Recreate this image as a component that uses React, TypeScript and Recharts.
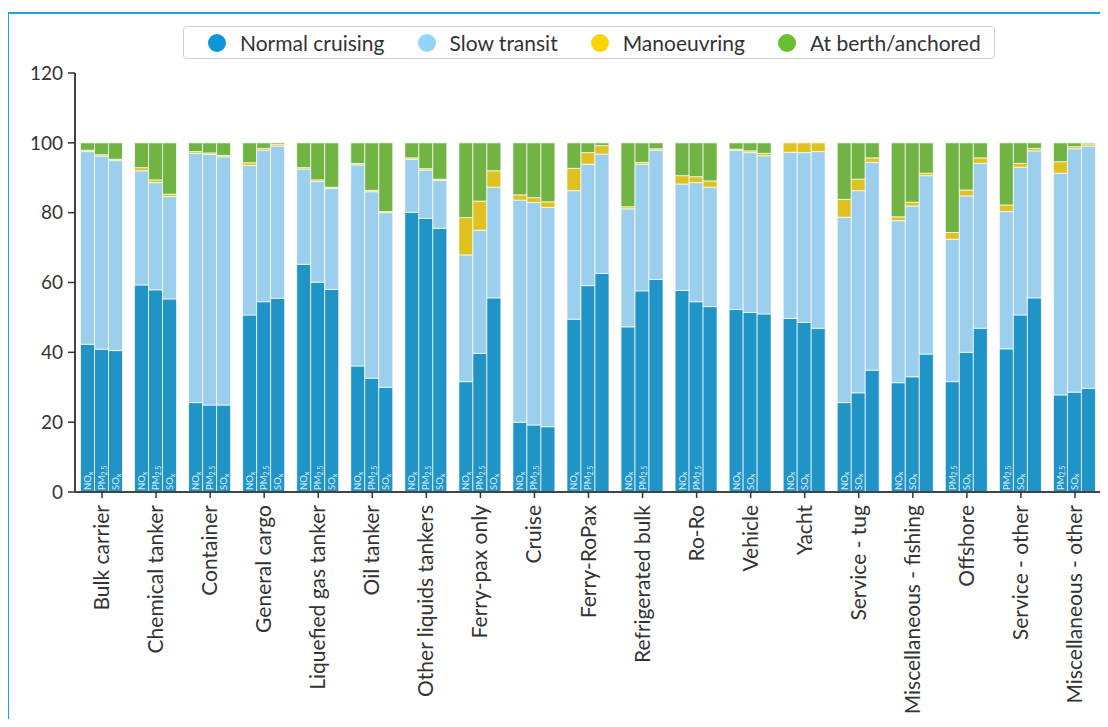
import React from "react";
import { BarChart, Bar, XAxis, YAxis, Legend, LabelList } from "recharts";

const categories = [
  "Bulk carrier",
  "Chemical tanker",
  "Container",
  "General cargo",
  "Liquefied gas tanker",
  "Oil tanker",
  "Other liquids tankers",
  "Ferry-pax only",
  "Cruise",
  "Ferry-RoPax",
  "Refrigerated bulk",
  "Ro-Ro",
  "Vehicle",
  "Yacht",
  "Service - tug",
  "Miscellaneous - fishing",
  "Offshore",
  "Service - other",
  "Miscellaneous - other",
];

const MODE_NAMES = ["Normal cruising", "Slow transit", "Manoeuvring", "At berth/anchored"];
const MODE_KEYS = ["cruise", "slow", "man", "berth"];
const POLLUTANTS = ["nox", "pm", "sox"];
const yTicks = [0, 20, 40, 60, 80, 100, 120];

// NOx (first bar of each group)
const noxCruise = [42.3, 59.3, 25.6, 50.7, 65.2, 36.1, 80.1, 31.6, 20.0, 49.5, 47.3, 57.7, 52.3, 49.7, 25.6, 31.3, 31.6, 41.0, 27.8];
const noxSlow = [55.2, 32.7, 71.4, 42.8, 27.3, 57.6, 15.2, 36.3, 63.6, 36.8, 33.8, 30.5, 45.5, 47.6, 53.1, 46.4, 40.8, 39.3, 63.5];
const noxMan = [0.4, 0.9, 0.5, 0.8, 0.4, 0.4, 0.4, 10.7, 1.5, 6.4, 0.6, 2.4, 0.4, 2.7, 5.1, 1.1, 1.9, 1.9, 3.3];
const noxBerth = [2.1, 7.1, 2.5, 5.7, 7.1, 5.9, 4.3, 21.4, 14.9, 7.3, 18.3, 9.4, 1.8, 0, 16.2, 21.2, 25.7, 17.8, 5.4];

// PM2.5 (second bar)
const pmCruise = [40.9, 57.9, 24.9, 54.5, 60.1, 32.6, 78.4, 39.7, 19.2, 59.1, 57.6, 54.5, 51.4, 48.6, 28.4, 33.0, 40.0, 50.7, 28.6];
const pmSlow = [55.3, 30.7, 71.8, 43.4, 28.8, 53.4, 13.8, 35.3, 63.7, 34.8, 36.3, 34.1, 45.8, 48.6, 57.9, 48.9, 44.8, 42.3, 69.7];
const pmMan = [0.4, 0.8, 0.4, 0.5, 0.5, 0.4, 0.4, 8.3, 1.4, 3.3, 0.5, 1.7, 0.5, 2.8, 3.3, 1.1, 1.7, 1.1, 0.6];
const pmBerth = [3.4, 10.6, 2.9, 1.6, 10.6, 13.6, 7.4, 16.7, 15.7, 2.8, 5.6, 9.7, 2.3, 0, 10.4, 17.0, 13.5, 5.9, 1.1];

// SOx (third bar)
const soxCruise = [40.5, 55.3, 24.9, 55.5, 58.0, 30.0, 75.5, 55.6, 18.7, 62.6, 60.9, 53.1, 51.0, 46.9, 34.9, 39.5, 46.9, 55.6, 29.7];
const soxSlow = [54.4, 29.3, 71.1, 43.6, 28.9, 50.0, 13.7, 31.7, 62.8, 34.2, 37.0, 34.2, 45.3, 50.6, 59.5, 51.1, 47.2, 42.1, 69.4];
const soxMan = [0.4, 0.7, 0.4, 0.5, 0.4, 0.3, 0.4, 4.7, 1.6, 2.4, 0.4, 1.8, 0.7, 2.5, 1.3, 0.7, 1.6, 0.7, 0.6];
const soxBerth = [4.7, 14.7, 3.6, 0.4, 12.7, 19.7, 10.4, 8.0, 16.9, 0.8, 1.7, 10.9, 3.0, 0, 4.3, 8.7, 4.3, 1.6, 0.3];

// small labels written at the foot of each bar, as they appear in the picture
const tagsFirst = ["NOx", "NOx", "NOx", "NOx", "NOx", "NOx", "NOx", "NOx", "NOx", "NOx", "NOx", "NOx", "NOx", "NOx", "NOx", "NOx", "PM2.5", "PM2.5", "PM2.5"];
const tagsSecond = ["PM2.5", "PM2.5", "PM2.5", "PM2.5", "PM2.5", "PM2.5", "PM2.5", "PM2.5", "PM2.5", "PM2.5", "PM2.5", "PM2.5", "SOx", "SOx", "SOx", "SOx", "SOx", "SOx", "SOx"];
const tagsThird = ["SOx", "SOx", "SOx", "SOx", "SOx", "SOx", "SOx", "SOx", "", "", "", "", "", "", "", "", "", "", ""];

const series: Record<string, number[][]> = {
  nox: [noxCruise, noxSlow, noxMan, noxBerth],
  pm: [pmCruise, pmSlow, pmMan, pmBerth],
  sox: [soxCruise, soxSlow, soxMan, soxBerth],
};
const tags: Record<string, string[]> = { nox: tagsFirst, pm: tagsSecond, sox: tagsThird };

const data = categories.map((name, i) => {
  const row: Record<string, any> = { name };
  POLLUTANTS.forEach((p) => {
    MODE_KEYS.forEach((k, m) => {
      row[`${p}_${k}`] = series[p][m][i];
    });
    row[`${p}_tag`] = tags[p][i];
  });
  return row;
});

const BAR_COLORS = ["#2094c7", "#9ccfee", "#dfc221", "#71b443"];
const LEGEND_COLORS = ["#0a96d8", "#94d4fb", "#f9d406", "#69bf2f"];
const FONT = "Lato, 'Open Sans', sans-serif";
const AXIS = "#444";

const renderTag = (props: any) => {
  const vb = props.viewBox || {};
  const x = props.x ?? vb.x;
  const y = props.y ?? vb.y;
  const width = props.width ?? vb.width;
  const height = props.height ?? vb.height;
  const value = props.value;
  if (!value) return null;
  const m = /^(NO|PM|SO)(.*)$/.exec(String(value));
  if (!m) return null;
  const cx = x + width / 2 + 3.5;
  const by = y + height - 2;
  return (
    <text
      transform={`translate(${cx},${by}) rotate(-90)`}
      fontSize={9.5}
      fontFamily={FONT}
      fill="#fff"
      fillOpacity={0.85}
    >
      {m[1]}
      <tspan fontSize={7} dy={1.5}>
        {m[2]}
      </tspan>
    </text>
  );
};

const CategoryTick = (props: any) => {
  const { x, y, payload } = props;
  return (
    <g transform={`translate(${x},${y})`}>
      <text
        transform="rotate(-90)"
        x={-5}
        y={0}
        dy={7}
        textAnchor="end"
        fontSize={21}
        fontFamily={FONT}
        fill="#333"
      >
        {payload.value}
      </text>
    </g>
  );
};

const LegendBox = () => (
  <div
    style={{
      boxSizing: "border-box",
      height: 33,
      border: "1.5px solid #cfcfcf",
      borderRadius: 4,
      display: "flex",
      alignItems: "center",
      paddingLeft: 24,
      fontFamily: FONT,
      fontSize: 21,
      color: "#333",
      background: "#fff",
      whiteSpace: "nowrap",
    }}
  >
    {MODE_NAMES.map((name, i) => (
      <div key={name} style={{ display: "flex", alignItems: "center", marginRight: 33 }}>
        <span
          style={{
            width: 18,
            height: 18,
            borderRadius: "50%",
            background: LEGEND_COLORS[i],
            display: "inline-block",
            marginRight: 14,
          }}
        />
        <span>{name}</span>
      </div>
    ))}
  </div>
);

export default function App() {
  return (
    <div style={{ position: "relative", margin: -8, width: 1108, height: 727, background: "#fff", overflow: "hidden" }}>
      <div
        style={{
          position: "absolute",
          left: 7,
          top: 12,
          width: 1110,
          height: 720,
          borderLeft: "2px solid #1e9fe6",
          borderTop: "2px solid #1e9fe6",
        }}
      />
      <div style={{ position: "absolute", left: 0, top: 0 }}>
        <BarChart
          width={1108}
          height={727}
          data={data}
          margin={{ top: 73, right: 6, bottom: 5, left: 15 }}
          barCategoryGap={5.5}
          barGap={0}
        >
          <XAxis
            dataKey="name"
            interval={0}
            height={230}
            tick={<CategoryTick />}
            tickSize={6}
            tickLine={{ stroke: "#333", strokeWidth: 1.5 }}
            axisLine={{ stroke: AXIS, strokeWidth: 2 }}
          />
          <XAxis
            xAxisId="top"
            dataKey="name"
            orientation="top"
            height={0}
            tick={false}
            tickLine={false}
            axisLine={{ stroke: AXIS, strokeWidth: 2 }}
          />
          <YAxis
            domain={[0, 120]}
            ticks={yTicks}
            width={60}
            tickSize={7}
            tickMargin={5}
            tick={{ fontSize: 19, fontFamily: FONT, fill: "#333" }}
            tickLine={{ stroke: "#333", strokeWidth: 1.5 }}
            axisLine={{ stroke: AXIS, strokeWidth: 2 }}
          />
          <YAxis
            yAxisId="right"
            orientation="right"
            width={0}
            domain={[0, 120]}
            tick={false}
            tickLine={false}
            axisLine={{ stroke: AXIS, strokeWidth: 2 }}
          />
          <Legend
            layout="horizontal"
            verticalAlign="middle"
            align="center"
            wrapperStyle={{ position: "absolute", top: 26, left: 183, width: 812, height: 33 }}
            content={() => <LegendBox />}
          />
          {POLLUTANTS.flatMap((p) =>
            MODE_KEYS.map((k, m) => (
              <Bar
                key={`${p}_${k}`}
                dataKey={`${p}_${k}`}
                name={MODE_NAMES[m]}
                stackId={p}
                fill={BAR_COLORS[m]}
                stroke="#ffffff"
                strokeOpacity={0.7}
                strokeWidth={1}
                isAnimationActive={false}
              >
                {m === 0 && <LabelList dataKey={`${p}_tag`} content={renderTag} />}
              </Bar>
            ))
          )}
        </BarChart>
      </div>
    </div>
  );
}
